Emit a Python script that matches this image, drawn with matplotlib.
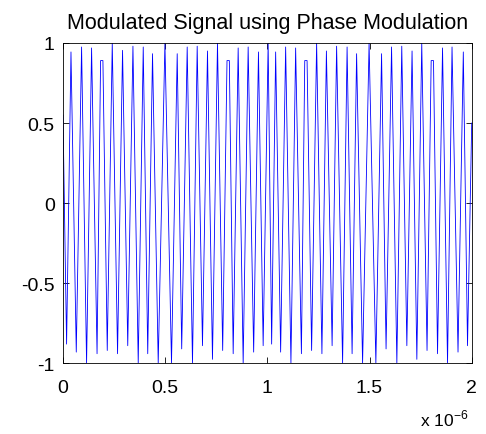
import matplotlib
matplotlib.use("Agg")
import matplotlib.pyplot as plt
import numpy as np

plt.rcParams['font.family'] = ['Liberation Sans', 'DejaVu Sans']
plt.rcParams['axes.unicode_minus'] = False

# Signal (time in microseconds)
start_time = [0.0]
start_value = [0.55]
end_time = [2.0]
end_value = [0.5]

peak_times = [0.0391, 0.0910, 0.1399, 0.1840, 0.1954, 0.2411, 0.2914, 0.3423, 0.3927, 0.4381,
              0.4988, 0.5589, 0.6078, 0.6567, 0.7071, 0.7560, 0.8026, 0.8140, 0.8572, 0.9061,
              0.9565, 1.0039, 1.0406, 1.0895, 1.1384, 1.1830, 1.1944, 1.2411, 1.2890, 1.3389,
              1.3902, 1.4367, 1.4978, 1.5589, 1.6078, 1.6577, 1.7081, 1.7555, 1.8016, 1.8130,
              1.8572, 1.9037, 1.9589]
peak_values = [0.944, 0.975, 0.969, 0.89, 0.89, 1.0, 0.954, 0.98, 0.975, 0.933,
               1.0, 0.933, 0.975, 0.98, 0.95, 1.0, 0.89, 0.89, 0.969, 0.975,
               0.944, 1.0, 0.944, 0.975, 0.969, 0.89, 0.89, 1.0, 0.95, 0.98,
               0.975, 0.933, 1.0, 0.933, 0.975, 0.98, 0.95, 1.0, 0.89, 0.89,
               0.969, 0.975, 0.944]

trough_times = [0.0176, 0.0650, 0.1154, 0.1667, 0.2166, 0.2670, 0.3169, 0.3682, 0.4147, 0.4660,
                0.5310, 0.5809, 0.6337, 0.6826, 0.7315, 0.7814, 0.8328, 0.8817, 0.9330, 0.9795,
                1.0210, 1.0650, 1.1154, 1.1667, 1.2166, 1.2670, 1.3169, 1.3682, 1.4147, 1.4660,
                1.5310, 1.5809, 1.6337, 1.6826, 1.7315, 1.7814, 1.8328, 1.8817, 1.9330, 1.9795]
trough_values = [-0.88, -0.93, -1.0, -0.94, -0.92, -0.94, -0.89, -1.0, -0.94, -1.0,
                 -1.0, -0.91, -1.0, -0.89, -0.975, -0.92, -0.94, -1.0, -0.93, -0.89,
                 -0.88, -0.93, -1.0, -0.94, -0.92, -0.94, -0.89, -1.0, -0.94, -1.0,
                 -1.0, -0.91, -1.0, -0.89, -0.975, -0.92, -0.94, -1.0, -0.93, -0.89]

x_ticks = [0, 0.5, 1, 1.5, 2]
x_tick_labels = ['0', '0.5', '1', '1.5', '2']
y_ticks = [-1, -0.5, 0, 0.5, 1]
y_tick_labels = ['-1', '-0.5', '0', '0.5', '1']

t = np.array(start_time + peak_times + trough_times + end_time)
v = np.array(start_value + peak_values + trough_values + end_value)
order = np.argsort(t, kind='stable')
t, v = t[order], v[order]

fig = plt.figure(figsize=(4.86, 4.35), dpi=100)
ax = fig.add_axes([0.1296, 0.1625, 0.8410, 0.7364])
ax.plot(t, v, color='#0000ff', linewidth=0.6)
ax.set_xlim(0, 2)
ax.set_ylim(-1, 1)
ax.set_xticks(x_ticks)
ax.set_xticklabels(x_tick_labels)
ax.set_yticks(y_ticks)
ax.set_yticklabels(y_tick_labels)
ax.tick_params(direction='in', top=True, right=True, length=4, width=0.6,
               labelsize=14)
ax.tick_params(axis='x', pad=11)
ax.tick_params(axis='y', pad=6)
for s in ax.spines.values():
    s.set_linewidth(0.6)
ax.set_title('Modulated Signal using Phase Modulation', fontsize=15.5, pad=11)
fig.text(0.864, 0.02, r'x 10$^{\mathregular{-6}}$', fontsize=12.5, ha='left', va='baseline')
fig.savefig('out.png', dpi=100)
